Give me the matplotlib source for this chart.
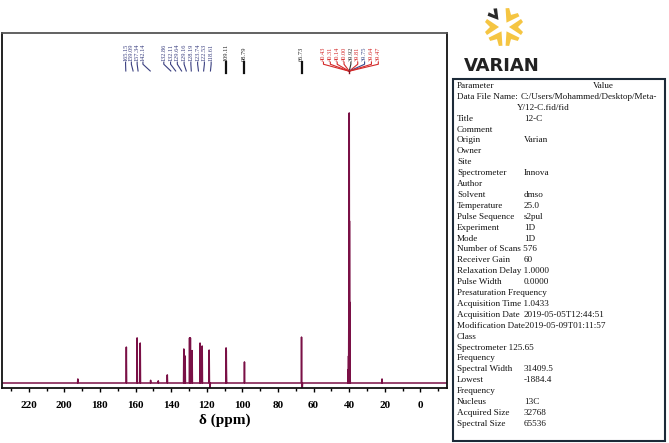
#! coding:utf-8
import numpy as np
import matplotlib
matplotlib.use('Agg')
import matplotlib.pyplot as plt
from matplotlib.patches import Polygon, Rectangle
import matplotlib.transforms as mtransforms

# labelled peaks (ppm) and relative heights (DMSO line = 1)
grp1_ppm = [165.15, 159.09, 157.34, 142.14]
grp1_h = [0.133, 0.167, 0.148, 0.03]
grp2_ppm = [132.86, 132.11, 129.64, 129.16, 128.19, 123.74, 122.53, 118.61]
grp2_h = [0.126, 0.10, 0.167, 0.167, 0.12, 0.148, 0.137, 0.122]
single_ppm = [109.11, 98.79, 66.73]
single_h = [0.13, 0.078, 0.17]
dmso_ppm = [40.43, 40.31, 40.14, 40.00, 39.92, 39.81, 39.75, 39.64, 39.47]
dmso_h = [0.05, 0.1, 0.3, 0.6, 1.0, 0.6, 0.3, 0.1, 0.05]
dmso_colors = ['#d42a2a'] * 4 + ['#333333', '#d42a2a', '#3b4a8a', '#d42a2a', '#d42a2a']

# small unlabelled features (incl. negative dips)
minor_ppm = [192.4, 151.5, 147.2, 109.0, 118.1, 66.3, 21.5]
minor_h = [0.015, 0.01, 0.008, 0.12, -0.02, -0.02, 0.015]

xticks = [220, 200, 180, 160, 140, 120, 100, 80, 60, 40, 20, 0]

param_col = ["Parameter", "Data File Name:", "", "Title", "Comment", "Origin",
             "Owner", "Site", "Spectrometer", "Author", "Solvent", "Temperature",
             "Pulse Sequence", "Experiment", "Mode", "Number of Scans 576",
             "Receiver Gain", "Relaxation Delay 1.0000", "Pulse Width",
             "Presaturation Frequency", "Acquisition Time 1.0433",
             "Acquisition Date", "Modification Date2019-05-09T01:11:57", "Class",
             "Spectrometer 125.65", "Frequency", "Spectral Width", "Lowest",
             "Frequency", "Nucleus", "Acquired Size", "Spectral Size"]
value_col = ["", "C:/Users/Mohammed/Desktop/Meta-", "Y/12-C.fid/fid", "12-C", "",
             "Varian", "", "", "Innova", "", "dmso", "25.0", "s2pul", "1D", "1D",
             "", "60", "", "0.0000", "", "", "2019-05-05T12:44:51", "", "", "",
             "", "31409.5", "-1884.4", "", "13C", "32768", "65536"]

W, H = 669, 443
fig = plt.figure(figsize=(W / 100, H / 100), dpi=100)
ax = fig.add_axes([2 / W, 1 - 388 / H, 445 / W, 355 / H])

# build the spectrum trace
all_ppm = np.array(grp1_ppm + grp2_ppm + single_ppm + dmso_ppm + minor_ppm)
all_h = np.array(grp1_h + grp2_h + single_h + dmso_h + minor_h)
order = np.argsort(all_ppm)[::-1]
w = 0.15
xs, ys = [235.0], [0.0]
for p, h in zip(all_ppm[order], all_h[order]):
    xs += [p + w, p, p - w]
    ys += [0.0, h, 0.0]
xs.append(-15.0)
ys.append(0.0)
ax.plot(xs, ys, color='#7a1046', lw=1.1)

ax.set_xlim(235, -15)
ax.set_ylim(-0.0185, 1.296)
ax.set_yticks([])
ax.set_xticks(xticks)
ax.set_xticks(np.arange(230, -15, -10), minor=True)
ax.tick_params(axis='x', which='major', direction='out', length=3, width=1, pad=6)
ax.tick_params(axis='x', which='minor', direction='out', length=2, width=1)
for lab in ax.get_xticklabels():
    lab.set_fontfamily('Liberation Serif')
    lab.set_fontweight('bold')
    lab.set_fontsize(8)
ax.set_xlabel('δ (ppm)', fontsize=11, fontweight='bold',
              fontfamily='Liberation Serif', labelpad=3)
for s in ['left', 'right', 'bottom']:
    ax.spines[s].set_color('#111111')
    ax.spines[s].set_linewidth(1.3)
ax.spines['top'].set_color('#555555')
ax.spines['top'].set_linewidth(1.3)

# peak labels
trans = mtransforms.blended_transform_factory(ax.transData, ax.transAxes)


def label_group(ppms, center, step, colors, fan=1.0):
    n = len(ppms)
    for i, p in enumerate(ppms):
        lx = center + step * ((n - 1) / 2.0 - i)
        px = lx + fan * (p - lx)
        ax.text(lx, 0.922, '%.2f' % p, rotation=90, ha='center', va='bottom',
                fontsize=4.6, fontfamily='Liberation Serif', color=colors[i],
                transform=trans)
        ax.plot([lx, lx, px], [0.918, 0.912, 0.893], color=colors[i], lw=0.8,
                transform=trans, clip_on=False)


navy = '#3a3f80'
label_group(grp1_ppm, 160.7, 3.25, [navy] * 4, fan=0.3)
label_group(grp2_ppm, 130.8, 3.8, [navy] * 8, fan=0.35)
for p in single_ppm:
    ax.text(p, 0.922, '%.2f' % p, rotation=90, ha='center', va='bottom',
            fontsize=4.6, fontfamily='Liberation Serif', color='#222222',
            transform=trans)
    ax.plot([p, p], [0.918, 0.888], color='#111111', lw=1.6, transform=trans)
label_group(dmso_ppm, 39.0, 3.85, dmso_colors, fan=1.0)
ax.plot([39.92, 39.92], [0.893, 0.886], color='#8a1020', lw=1.0, transform=trans)

# Varian logo (pixel coordinates, y downwards)
lax = fig.add_axes([0, 0, 1, 1], zorder=-1)
lax.set_xlim(0, W)
lax.set_ylim(H, 0)
lax.axis('off')
cx, cy = 504, 27


def rot(pts, ang):
    t = np.deg2rad(ang)
    R = np.array([[np.cos(t), -np.sin(t)], [np.sin(t), np.cos(t)]])
    return pts @ R.T + [cx, cy]


arm = np.array([[5, 0], [17, -8], [19, -5], [14, 0], [19, 5], [17, 8]], float)
for ang in [-60, 0, 60, 120, 180]:
    lax.add_patch(Polygon(rot(arm, ang), closed=True, color='#f5c542', lw=0))
dark = np.array([[9, 0], [19, -6], [21, -3], [15, 0], [21, 3], [19, 6]], float)
lax.add_patch(Polygon(rot(dark, -128), closed=True, color='#2a2a2a', lw=0))
lax.text(502, 66, 'VARIAN', ha='center', va='center', fontsize=13,
         fontweight='bold', fontfamily='DejaVu Sans', color='#222222')

# parameter box
box = Rectangle((453 / W, 1 - 441 / H), 212 / W, 362 / H, transform=fig.transFigure,
                fill=False, ec='#1c2a38', lw=1.5)
fig.patches.append(box)
fs = 6.6
for i, (nm, val) in enumerate(zip(param_col, value_col)):
    yy = 1 - (86 + 10.9 * i) / H
    fig.text(457 / W, yy, nm, fontsize=fs, fontfamily='Liberation Serif',
             va='center', ha='left', color='#111111')
    if val:
        vx = {1: 521, 2: 517}.get(i, 524)
        fig.text(vx / W, yy, val, fontsize=fs, fontfamily='Liberation Serif',
                 va='center', ha='left', color='#111111')
fig.text(593 / W, 1 - 86 / H, 'Value', fontsize=fs, fontfamily='Liberation Serif',
         va='center', ha='left', color='#111111')

fig.savefig('out.png', dpi=100)
